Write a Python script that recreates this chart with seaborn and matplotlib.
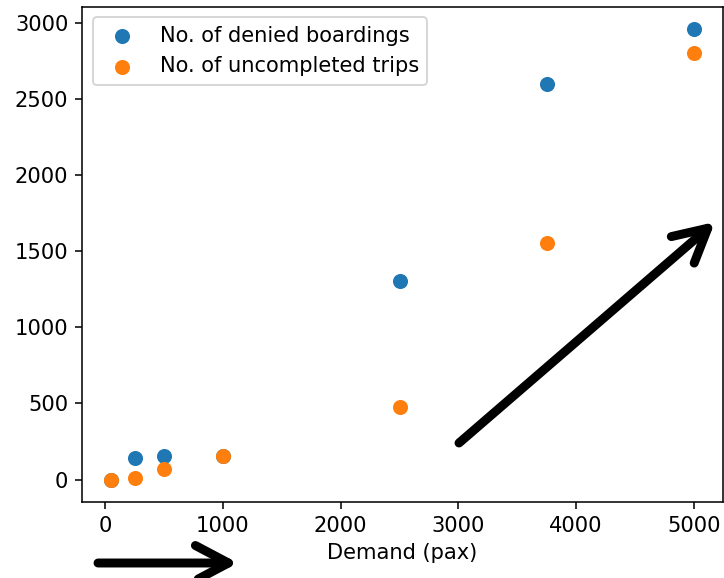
import matplotlib
matplotlib.use("Agg")
import matplotlib.pyplot as plt
import seaborn as sns
import pandas as pd

demand = [50, 250, 500, 1000, 2500, 3750, 5000]
denied_boardings = [0, 140, 155, 155, 1305, 2600, 2955]
uncompleted_trips = [0, 8, 72, 155, 475, 1550, 2800]
series_labels = ["No. of denied boardings", "No. of uncompleted trips"]
x_label = "Demand (pax)"

df = pd.DataFrame({"demand": demand, "denied": denied_boardings, "uncompleted": uncompleted_trips})

plt.rcParams["font.size"] = 10.8

DPI = 140
fig = plt.figure(figsize=(724 / DPI, 578 / DPI), dpi=DPI)
W, H = 724, 578
ax = fig.add_axes([82 / W, 1 - 502 / H, (723 - 82) / W, (502 - 7) / H])

sns.scatterplot(data=df, x="demand", y="denied", ax=ax, color="#1f77b4",
                s=60, linewidth=0, label=series_labels[0])
sns.scatterplot(data=df, x="demand", y="uncompleted", ax=ax, color="#ff7f0e",
                s=60, linewidth=0, label=series_labels[1])

ax.set_xlabel(x_label)
ax.set_ylabel("")
ax.set_xticks([0, 1000, 2000, 3000, 4000, 5000])
ax.set_yticks([0, 500, 1000, 1500, 2000, 2500, 3000])
ax.legend(loc="upper left")

arrow_kw = dict(arrowstyle="->,head_length=0.85,head_width=0.45", lw=4.6,
                color="black", capstyle="round", joinstyle="round",
                mutation_scale=20, shrinkA=0, shrinkB=0)
ax.annotate("", xy=(238, 578 - 563), xytext=(98, 578 - 563),
            xycoords="figure pixels", textcoords="figure pixels",
            arrowprops=arrow_kw, annotation_clip=False)
ax.annotate("", xy=(715, 578 - 222), xytext=(459, 578 - 443),
            xycoords="figure pixels", textcoords="figure pixels",
            arrowprops=arrow_kw, annotation_clip=False)

fig.savefig("out.png", dpi=DPI)
